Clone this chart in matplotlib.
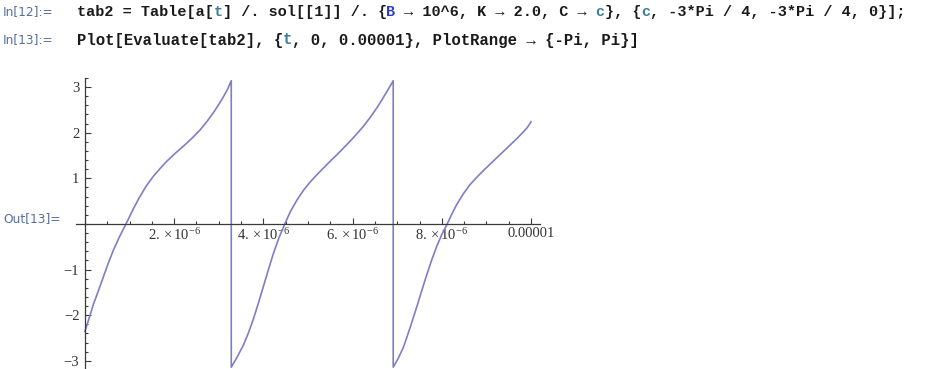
import numpy as np
import matplotlib.pyplot as plt
from matplotlib.ticker import FixedLocator, MultipleLocator

W, H = 937, 369

# a(t) for c = -3 Pi/4, t in microseconds; wraps from Pi to -Pi
t_us = [0.00, 0.10, 0.19, 0.30, 0.41, 0.52, 0.64, 0.77, 0.92, 1.08, 1.22, 1.38, 1.53, 1.68,
        1.83, 1.98, 2.13, 2.28, 2.43, 2.58, 2.73, 2.88, 3.00, 3.10, 3.20, 3.28,
        3.28, 3.40, 3.55, 3.66, 3.77, 3.88, 4.00, 4.11, 4.22, 4.35, 4.48, 4.61, 4.75, 4.90,
        5.04, 5.19, 5.34, 5.49, 5.64, 5.79, 5.94, 6.09, 6.24, 6.39, 6.54, 6.65, 6.76, 6.84, 6.91,
        6.91, 7.02, 7.14, 7.29, 7.44, 7.55, 7.66, 7.78, 7.89, 8.00, 8.12, 8.22, 8.33, 8.48,
        8.63, 8.78, 8.93, 9.08, 9.23, 9.38, 9.53, 9.68, 9.83, 9.92, 10.00]
phase = [-2.356, -2.05, -1.76, -1.47, -1.17, -0.87, -0.57, -0.29, 0.00, 0.32, 0.58, 0.84, 1.04, 1.21,
         1.37, 1.51, 1.64, 1.77, 1.91, 2.06, 2.24, 2.44, 2.62, 2.78, 2.96, 3.14,
         -3.14, -2.94, -2.66, -2.40, -2.10, -1.76, -1.37, -1.01, -0.66, -0.30, 0.00, 0.28, 0.52, 0.74,
         0.91, 1.07, 1.22, 1.37, 1.51, 1.66, 1.81, 1.97, 2.14, 2.33, 2.54, 2.71, 2.89, 3.02, 3.14,
         -3.14, -2.95, -2.70, -2.27, -1.81, -1.46, -1.12, -0.77, -0.48, -0.23, 0.00, 0.21, 0.42, 0.66,
         0.86, 1.02, 1.17, 1.31, 1.45, 1.59, 1.73, 1.87, 2.02, 2.12, 2.24]

x_ticks = [2e-6, 4e-6, 6e-6, 8e-6, 1e-5]
x_labels = [r'$2.\times10^{-6}$', r'$4.\times10^{-6}$', r'$6.\times10^{-6}$',
            r'$8.\times10^{-6}$', '0.00001']
y_ticks = [-3, -2, -1, 1, 2, 3]

INK, VAR, SYM, LABEL = '#1a1a1a', '#3f7f98', '#2a3fc0', '#56709a'
line12 = [("tab2 = Table[a[", INK), ("t", VAR), ("] /. sol[[1]] /. {", INK), ("B", SYM),
          (" → 10^6, K → 2.0, C → ", INK), ("c", VAR), ("}, {", INK), ("c", VAR),
          (", -3*Pi / 4, -3*Pi / 4, 0}];", INK)]
line13 = [("Plot[Evaluate[tab2], {", INK), ("t", VAR),
          (", 0, 0.00001}, PlotRange → {-Pi, Pi}]", INK)]

plt.rcParams['font.family'] = ['Liberation Serif', 'DejaVu Serif']
plt.rcParams['mathtext.fontset'] = 'custom'
plt.rcParams['mathtext.rm'] = 'Liberation Serif'
plt.rcParams['mathtext.it'] = 'Liberation Serif:italic'

fig = plt.figure(figsize=(W / 100, H / 100), dpi=100)


def px(x, y):
    return x / W, 1 - y / H


# notebook cells, laid out on a fixed character grid
mono = ['Liberation Mono', 'DejaVu Sans Mono']
for runs, y, charw in [(line12, 12, 9.1), (line13, 40, 9.35)]:
    n = 0
    for s, c in runs:
        fig.text(*px(77 + n * charw, y), s, family=mono, weight='bold',
                 fontsize=charw / 0.6 * 0.72, color=c, va='center', ha='left')
        n += len(s)
for s, y in [('In[12]:=', 12), ('In[13]:=', 40), ('Out[13]=', 219)]:
    fig.text(*px(3, y), s, family=['DejaVu Sans'],
             fontsize=8.8, color=LABEL, va='center', ha='left')

ax = fig.add_axes([76 / W, 1 - 368 / H, (540 - 76) / W, (368 - 78) / H])
ax.plot(np.array(t_us) * 1e-6, phase, color='#7e7ec6', lw=1.2)

ax.set_xlim(-0.2e-6, 10.2e-6)
ax.set_ylim(-3.158, 3.20)
ax.patch.set_alpha(0)
for side in ['top', 'right']:
    ax.spines[side].set_visible(False)
ax.spines['left'].set_position(('data', 0))
ax.spines['bottom'].set_position(('data', 0))
for side in ['left', 'bottom']:
    ax.spines[side].set_color('#3a3a3a')
    ax.spines[side].set_linewidth(0.9)

ax.xaxis.set_major_locator(FixedLocator(x_ticks))
ax.set_xticklabels(x_labels)
ax.xaxis.set_minor_locator(MultipleLocator(0.5e-6))
ax.yaxis.set_major_locator(FixedLocator(y_ticks))
ax.set_yticklabels([str(v).replace('-', '−') for v in y_ticks])
ax.yaxis.set_minor_locator(MultipleLocator(0.2))

ax.tick_params(which='both', direction='in', color='#3a3a3a', width=0.8)
ax.tick_params(which='major', length=4, labelsize=10.5, labelcolor='#333333')
ax.tick_params(which='minor', length=2.2)
ax.tick_params(axis='x', pad=2)
ax.tick_params(axis='y', pad=4)

fig.savefig('out.png', dpi=100)
